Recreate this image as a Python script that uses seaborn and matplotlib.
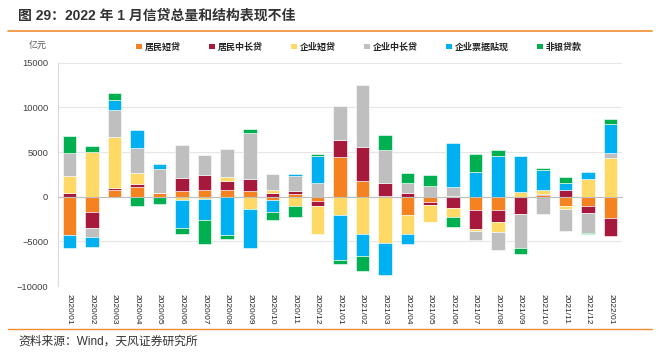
import numpy as np
import seaborn as sns
import matplotlib
matplotlib.use('Agg')
import matplotlib.pyplot as plt
from matplotlib.patches import Patch
from matplotlib.lines import Line2D

# Months on the x axis
months = ['2020/01', '2020/02', '2020/03', '2020/04', '2020/05', '2020/06', '2020/07',
          '2020/08', '2020/09', '2020/10', '2020/11', '2020/12', '2021/01', '2021/02',
          '2021/03', '2021/04', '2021/05', '2021/06', '2021/07', '2021/08', '2021/09',
          '2021/10', '2021/11', '2021/12', '2022/01']

series_names = ['居民短贷', '居民中长贷', '企业短贷', '企业中长贷', '企业票据贴现', '非银贷款']

# Values (亿元)
hh_short = [-4240, -1690, 750, 1125, 375, 675, 750, 750, 600, -375, 300, -525, 4425,
            1760, 110, -2025, -640, 60, -1500, -1460, 0, 150, -1050, -1050, -2400]
hh_long = [410, -1840, 225, 260, 0, 1425, 1650, 1050, 1425, 410, 340, -490, 1950,
           3790, 1425, 450, -260, -1275, -2100, -1330, -1950, 190, 750, -825, -2025]
corp_short = [1880, 5030, 5660, 1275, 0, -375, -260, 375, -1390, 300, -1010, -3150, -2060,
              -4160, -5140, -2100, -1910, -975, -190, -1160, 490, 410, -300, 1990, 4310]
corp_long = [2550, -1010, 3075, 2810, 2740, 3640, 2290, 3110, 5100, 1875, 1725, 1500, 3825,
             6900, 3710, 1050, 1160, 1030, -1050, -2025, -3825, -1950, -2510, -2140, 600]
bills = [-1500, -1050, 1125, 1990, 490, -3150, -2360, -4240, -4390, -1390, 190, 3075, -5025,
         -2510, -3640, -1200, -75, 4875, 2775, 4500, 4010, 2290, 750, 750, 3225]
nonbank = [1910, 600, 790, -1090, -825, -600, -2660, -525, 490, -790, -1310, 190, -410,
           -1650, 1690, 1125, 1310, -1160, 2025, 750, -600, 190, 675, -150, 600]

all_series = [hh_short, hh_long, corp_short, corp_long, bills, nonbank]
colors = ['#F58220', '#A6193C', '#FFD966', '#BFBFBF', '#00B0F0', '#00B050']

sns.set_style('white')
plt.rcParams['font.family'] = ['Liberation Sans', 'Noto Sans CJK SC']

fig = plt.figure(figsize=(6.61, 3.56), dpi=100)
ax = fig.add_axes([58 / 661, 1 - 286 / 356, 564 / 661, 223.3 / 356])

# Stacked bars: positives stack up, negatives stack down
pos_base = np.zeros(len(months))
neg_base = np.zeros(len(months))
for name, vals, c in zip(series_names, all_series, colors):
    v = np.array(vals, dtype=float)
    bottom = np.where(v >= 0, pos_base, neg_base)
    sns.barplot(x=months, y=v, bottom=bottom, color=c, width=0.6, errorbar=None,
                saturation=1, edgecolor='white', linewidth=0.4, ax=ax, zorder=3)
    pos_base += np.clip(v, 0, None)
    neg_base += np.clip(v, None, 0)

ax.set_xlim(-0.5, len(months) - 0.5)
ax.set_ylim(-10000, 15000)
ax.set_yticks(np.arange(-10000, 15001, 5000))
ax.yaxis.grid(True, color='#E6E6E6', lw=0.8, zorder=0)
ax.set_axisbelow(True)
ax.tick_params(axis='y', length=0, pad=7, labelsize=6.7, labelcolor='#404040')
ax.set_xlabel('')
ax.set_ylabel('')

for s in ['top', 'right']:
    ax.spines[s].set_visible(False)
ax.spines['left'].set_color('#D9D9D9')
ax.spines['left'].set_linewidth(0.8)
ax.spines['bottom'].set_position(('data', 0))
ax.spines['bottom'].set_color('#BFBFBF')
ax.spines['bottom'].set_linewidth(0.8)
ax.spines['bottom'].set_zorder(4)

# tick marks between categories on the zero line
ax.set_xticks(np.arange(-0.5, len(months), 1))
ax.set_xticklabels([])
ax.tick_params(axis='x', length=3, width=0.6, color='#BFBFBF', direction='out')

# month labels along the bottom of the plot
sec = ax.secondary_xaxis('bottom')
sec.set_xticks(range(len(months)))
sec.set_xticklabels(months, rotation=270, fontsize=6, color='#262626')
sec.tick_params(length=0, pad=6)
sec.spines['bottom'].set_visible(False)

# Legend
handles = [Patch(facecolor=c, edgecolor='none') for c in colors]
fig.legend(handles, series_names, loc='center', bbox_to_anchor=(359 / 661, 1 - 47 / 356),
           ncol=6, frameon=False, prop={'size': 6.5, 'weight': 'bold'},
           handlelength=0.6, handleheight=0.6, handletextpad=0.3, columnspacing=3.2)

# Titles and notes
fig.text(18 / 661, 1 - 16 / 356, '图 29：2022 年 1 月信贷总量和结构表现不佳',
         fontsize=10, weight='bold', va='center', color='#333333')
fig.add_artist(Line2D([8 / 661, 652 / 661], [1 - 31 / 356] * 2, color='#F08C2E', lw=1.2))
fig.text(38 / 661, 1 - 45 / 356, '亿元', fontsize=6.5, ha='center', va='center', color='#595959')
fig.add_artist(Line2D([8 / 661, 652 / 661], [1 - 329 / 356] * 2, color='#F08C2E', lw=1.0))
fig.text(18 / 661, 1 - 342 / 356, '资料来源：Wind，天风证券研究所', fontsize=8.5,
         va='center', color='#333333')

fig.savefig('out.png', dpi=100)
